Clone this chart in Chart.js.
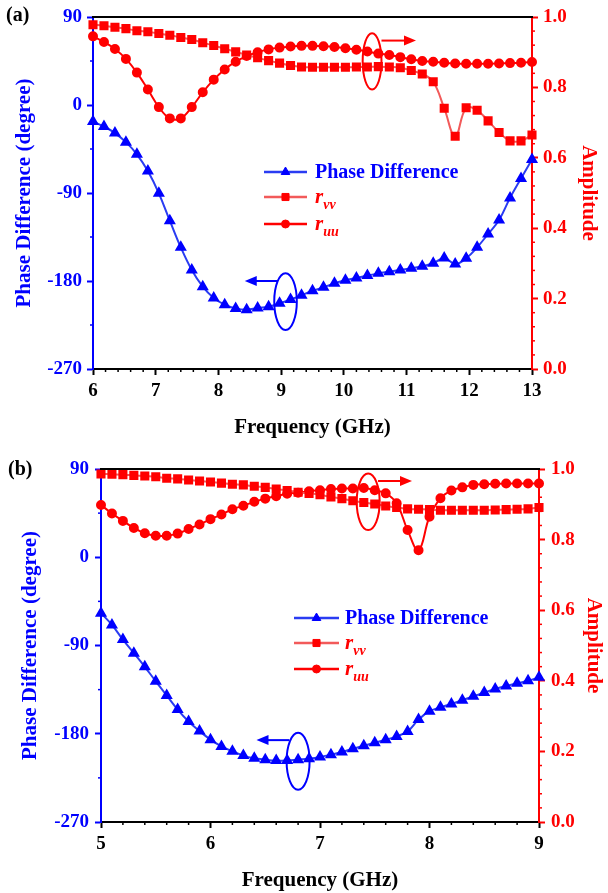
<!DOCTYPE html>
<html><head><meta charset="utf-8">
<script src="https://cdn.jsdelivr.net/npm/chart.js@4.4.1/dist/chart.umd.min.js"></script>
<style>
html,body{margin:0;padding:0;background:#fff;}
#wrap{position:relative;width:608px;height:893px;overflow:hidden;}
canvas{position:absolute;left:0;}
</style></head><body>
<div id="wrap">
<canvas id="ca" width="608" height="445" style="top:0px"></canvas>
<canvas id="cb" width="608" height="448" style="top:445px"></canvas>
</div>
<script>
// ---------------- DATA ----------------
const freqA = [6.000, 6.175, 6.350, 6.525, 6.700, 6.875, 7.050, 7.225, 7.400, 7.575,
  7.750, 7.925, 8.100, 8.275, 8.450, 8.625, 8.800, 8.975, 9.150, 9.325,
  9.500, 9.675, 9.850, 10.025, 10.200, 10.375, 10.550, 10.725, 10.900, 11.075,
  11.250, 11.425, 11.600, 11.775, 11.950, 12.125, 12.300, 12.475, 12.650, 12.825, 13.000];
const phaseA = [-17, -22, -28.7, -38, -50.4, -67.6, -90.3, -118.3, -145.6, -168.7,
  -185.8, -197.4, -204.2, -208, -209.3, -207.6, -206.3, -202.8, -198.8, -194.7,
  -189.9, -186.5, -182.4, -179.3, -176.9, -174.5, -172.2, -170.5, -168.7, -167,
  -165, -161.9, -156.5, -162.6, -156.8, -145.6, -131.9, -117.6, -95, -75.1, -55.8];
const rvvA = [0.978, 0.975, 0.971, 0.967, 0.961, 0.958, 0.953, 0.948, 0.942, 0.936,
  0.927, 0.919, 0.910, 0.901, 0.892, 0.884, 0.876, 0.869, 0.862, 0.858,
  0.857, 0.857, 0.857, 0.857, 0.858, 0.858, 0.859, 0.858, 0.856, 0.848,
  0.838, 0.816, 0.741, 0.661, 0.742, 0.735, 0.705, 0.672, 0.648, 0.648, 0.665];
const ruuA = [0.945, 0.929, 0.909, 0.881, 0.842, 0.794, 0.744, 0.712, 0.712, 0.744,
  0.786, 0.822, 0.851, 0.873, 0.889, 0.900, 0.908, 0.913, 0.916, 0.918,
  0.918, 0.917, 0.915, 0.911, 0.907, 0.902, 0.896, 0.892, 0.886, 0.880,
  0.875, 0.873, 0.870, 0.868, 0.867, 0.867, 0.867, 0.868, 0.869, 0.870, 0.872];

const freqB = [5.0, 5.1, 5.2, 5.3, 5.4, 5.5, 5.6, 5.7, 5.8, 5.9,
  6.0, 6.1, 6.2, 6.3, 6.4, 6.5, 6.6, 6.7, 6.8, 6.9,
  7.0, 7.1, 7.2, 7.3, 7.4, 7.5, 7.6, 7.7, 7.8, 7.9,
  8.0, 8.1, 8.2, 8.3, 8.4, 8.5, 8.6, 8.7, 8.8, 8.9, 9.0];
const phaseB = [-57, -69, -84, -97.8, -111.7, -126.5, -141, -155.3, -167.5, -177.3,
  -186, -192.9, -197.9, -202.3, -205, -206.4, -207.4, -207.4, -206.4, -205.4,
  -203.7, -201.3, -198.6, -195.2, -192.2, -189.1, -186.1, -182.7, -177.6, -165.5,
  -157, -153, -149.6, -145.8, -141.8, -138, -134.3, -131.3, -128.6, -125.9, -122.5];
const rvvB = [0.986, 0.985, 0.984, 0.982, 0.980, 0.978, 0.974, 0.972, 0.969, 0.966,
  0.963, 0.960, 0.957, 0.955, 0.951, 0.948, 0.943, 0.939, 0.934, 0.931,
  0.927, 0.921, 0.916, 0.910, 0.905, 0.901, 0.895, 0.891, 0.887, 0.886,
  0.885, 0.883, 0.883, 0.883, 0.883, 0.883, 0.884, 0.885, 0.886, 0.887, 0.891];
const ruuB = [0.898, 0.874, 0.853, 0.833, 0.818, 0.811, 0.811, 0.817, 0.830, 0.843,
  0.858, 0.871, 0.886, 0.896, 0.907, 0.916, 0.923, 0.930, 0.933, 0.937,
  0.940, 0.943, 0.945, 0.945, 0.946, 0.940, 0.931, 0.903, 0.827, 0.770,
  0.865, 0.917, 0.939, 0.948, 0.955, 0.957, 0.958, 0.959, 0.959, 0.959, 0.959];

const freqTicksA = [6, 7, 8, 9, 10, 11, 12, 13];
const freqTicksB = [5, 6, 7, 8, 9];
const phaseTicks = [90, 0, -90, -180, -270];
const ampTicks = [0.0, 0.2, 0.4, 0.6, 0.8, 1.0];
const seriesNames = ['Phase Difference', 'r', 'r'];
const seriesSubs = ['', 'vv', 'uu'];

// ---------------- STYLE ----------------
const FONT = "'Liberation Serif', 'Times New Roman', serif";
const BLUE = '#0000ff', BLUE_LINE = '#2a3cf2', RED = '#ff0000', RED_LIGHT = '#f25a5a';

function pts(xs, ys) { return xs.map((x, i) => ({x: x, y: ys[i]})); }

const decor = {
  id: 'decor',
  afterDraw(chart, args, o) {
    const ctx = chart.ctx, ca = chart.chartArea;
    const sx = chart.scales.x, sl = chart.scales.yL, sr = chart.scales.yR;
    ctx.save();
    // top frame line
    ctx.strokeStyle = '#000'; ctx.lineWidth = 2;
    ctx.beginPath(); ctx.moveTo(ca.left - 1, ca.top); ctx.lineTo(ca.right + 1, ca.top); ctx.stroke();
    // minor ticks
    const minor = (scale, step, majorStep, side, color) => {
      ctx.strokeStyle = color; ctx.lineWidth = 1.5;
      const n = Math.round((scale.max - scale.min) / step);
      for (let i = 0; i <= n; i++) {
        const v = scale.min + i * step;
        const r = v / majorStep;
        if (Math.abs(r - Math.round(r)) < 1e-6) continue;
        const p = scale.getPixelForValue(v);
        ctx.beginPath();
        if (side === 'bottom') { ctx.moveTo(p, ca.bottom); ctx.lineTo(p, ca.bottom + 3); }
        else if (side === 'left') { ctx.moveTo(ca.left, p); ctx.lineTo(ca.left - 3, p); }
        else { ctx.moveTo(ca.right, p); ctx.lineTo(ca.right + 3, p); }
        ctx.stroke();
      }
    };
    minor(sx, o.minorX, 1, 'bottom', '#000');
    minor(sl, 45, 90, 'left', BLUE);
    minor(sr, 0.04, 0.2, 'right', RED);
    // ellipses
    o.ellipses.forEach(e => {
      const ys = e.axis === 'yL' ? sl : sr;
      const cx = sx.getPixelForValue(e.x), cy = ys.getPixelForValue(e.y);
      const rx = Math.abs(sx.getPixelForValue(e.x + e.dx) - cx);
      const ry = Math.abs(ys.getPixelForValue(e.y + e.dy) - cy);
      ctx.strokeStyle = e.color; ctx.lineWidth = 2;
      ctx.beginPath(); ctx.ellipse(cx, cy, rx, ry, 0, 0, 2 * Math.PI); ctx.stroke();
    });
    // arrows
    o.arrows.forEach(a => {
      const ys = a.axis === 'yL' ? sl : sr;
      const x1 = sx.getPixelForValue(a.x1), x2 = sx.getPixelForValue(a.x2), y = ys.getPixelForValue(a.y);
      const dir = Math.sign(x2 - x1);
      ctx.strokeStyle = a.color; ctx.fillStyle = a.color; ctx.lineWidth = 2;
      ctx.beginPath(); ctx.moveTo(x1, y); ctx.lineTo(x2 - dir * 8, y); ctx.stroke();
      ctx.beginPath(); ctx.moveTo(x2, y); ctx.lineTo(x2 - dir * 12, y - 5); ctx.lineTo(x2 - dir * 12, y + 5); ctx.closePath(); ctx.fill();
    });
    // legend
    const L = o.legend;
    chart.data.datasets.forEach((ds, i) => {
      const y = L.rows[i];
      ctx.strokeStyle = ds.borderColor; ctx.lineWidth = 2.5;
      ctx.beginPath(); ctx.moveTo(L.x1, y); ctx.lineTo(L.x2, y); ctx.stroke();
      ctx.fillStyle = ds.pointBackgroundColor; ctx.strokeStyle = ds.pointBackgroundColor; ctx.lineWidth = 1;
      Chart.helpers.drawPoint(ctx, {pointStyle: ds.pointStyle, radius: ds.pointRadius, rotation: 0, borderWidth: 1}, (L.x1 + L.x2) / 2, y);
      ctx.textBaseline = 'middle'; ctx.textAlign = 'left';
      if (i === 0) {
        ctx.fillStyle = BLUE; ctx.font = 'bold 20px ' + FONT;
        ctx.fillText(seriesNames[0], L.tx, y + 1);
      } else {
        ctx.fillStyle = RED; ctx.font = 'italic bold 21px ' + FONT;
        ctx.fillText(seriesNames[i], L.tx, y + 1);
        const w = ctx.measureText(seriesNames[i]).width;
        ctx.font = 'italic bold 14px ' + FONT;
        ctx.fillText(seriesSubs[i], L.tx + w, y + 8);
      }
    });
    // panel label
    ctx.fillStyle = '#000'; ctx.font = 'bold 20px ' + FONT; ctx.textBaseline = 'middle'; ctx.textAlign = 'left';
    ctx.fillText(o.panel, o.panelX, o.panelY);
    ctx.restore();
  }
};

function buildChart(id, cfg) {
  const datasets = [
    {label: seriesNames[0], data: pts(cfg.freq, cfg.phase), yAxisID: 'yL', borderColor: BLUE_LINE, backgroundColor: BLUE,
     pointBackgroundColor: BLUE, pointBorderColor: BLUE, pointStyle: 'triangle', pointRadius: 5, borderWidth: 2, tension: 0.4, clip: false},
    {label: 'r_vv', data: pts(cfg.freq, cfg.rvv), yAxisID: 'yR', borderColor: RED_LIGHT, backgroundColor: RED,
     pointBackgroundColor: RED, pointBorderColor: RED, pointStyle: 'rect', pointRadius: 5, borderWidth: 2, tension: 0.4, clip: false},
    {label: 'r_uu', data: pts(cfg.freq, cfg.ruu), yAxisID: 'yR', borderColor: RED, backgroundColor: RED,
     pointBackgroundColor: RED, pointBorderColor: RED, pointStyle: 'circle', pointRadius: 4, borderWidth: 2, tension: 0.4, clip: false}
  ];
  const tickFont = {family: FONT, size: 19, weight: 'bold'};
  const titleFont = {family: FONT, size: 21, weight: 'bold'};
  return new Chart(document.getElementById(id), {
    type: 'line',
    data: {datasets: datasets},
    options: {
      responsive: false, animation: false, devicePixelRatio: 1,
      layout: {padding: {top: cfg.top, left: 0, right: 0, bottom: 0}},
      plugins: {legend: {display: false}, tooltip: {enabled: false}, decor: cfg.decor},
      scales: {
        x: {type: 'linear', position: 'bottom', min: cfg.freqTicks[0], max: cfg.freqTicks[cfg.freqTicks.length - 1],
          afterBuildTicks: s => { s.ticks = cfg.freqTicks.map(v => ({value: v})); },
          afterFit: s => { s.height = cfg.xH; },
          ticks: {font: tickFont, color: '#000', padding: 5, maxRotation: 0, autoSkip: false},
          grid: {drawOnChartArea: false, drawTicks: true, tickLength: 6, tickWidth: 2, tickColor: '#000'},
          border: {display: true, color: '#000', width: 2},
          title: {display: true, text: 'Frequency (GHz)', font: titleFont, color: '#000', padding: {top: 0, bottom: cfg.xTitlePad}}},
        yL: {type: 'linear', position: 'left', min: -270, max: 90,
          afterBuildTicks: s => { s.ticks = phaseTicks.map(v => ({value: v})); },
          afterFit: s => { s.width = cfg.leftW; },
          ticks: {font: tickFont, color: BLUE, padding: cfg.lPad, autoSkip: false},
          grid: {drawOnChartArea: false, drawTicks: true, tickLength: 6, tickWidth: 2, tickColor: BLUE},
          border: {display: true, color: BLUE, width: 2},
          title: {display: true, text: 'Phase Difference (degree)', font: titleFont, color: BLUE, padding: {top: cfg.lTitlePad, bottom: 0}}},
        yR: {type: 'linear', position: 'right', min: 0, max: 1,
          afterBuildTicks: s => { s.ticks = ampTicks.map(v => ({value: v})); },
          afterFit: s => { s.width = cfg.rightW; },
          ticks: {font: tickFont, color: RED, padding: cfg.rPad, autoSkip: false, callback: v => Number(v).toFixed(1)},
          grid: {drawOnChartArea: false, drawTicks: true, tickLength: 6, tickWidth: 2, tickColor: RED},
          border: {display: true, color: RED, width: 2},
          title: {display: true, text: 'Amplitude', font: titleFont, color: RED, padding: {top: cfg.rTitlePad, bottom: 0}}}
      }
    },
    plugins: [decor]
  });
}

buildChart('ca', {
  freq: freqA, phase: phaseA, rvv: rvvA, ruu: ruuA, freqTicks: freqTicksA,
  top: 17, xH: 76, leftW: 93, rightW: 76, lPad: 5, rPad: 5,
  xTitlePad: 5, lTitlePad: 12, rTitlePad: 7,
  decor: {
    panel: '(a)', panelX: 6, panelY: 16, minorX: 0.2,
    legend: {x1: 264, x2: 307, tx: 315, rows: [172, 197, 224]},
    ellipses: [
      {axis: 'yR', x: 10.45, y: 0.874, dx: 0.15, dy: 0.08, color: RED},
      {axis: 'yL', x: 9.07, y: -201, dx: 0.18, dy: 29, color: BLUE}
    ],
    arrows: [
      {axis: 'yR', x1: 10.6, x2: 11.15, y: 0.933, color: RED},
      {axis: 'yL', x1: 8.94, x2: 8.42, y: -180, color: BLUE}
    ]
  }
});

buildChart('cb', {
  freq: freqB, phase: phaseB, rvv: rvvB, ruu: ruuB, freqTicks: freqTicksB,
  top: 24, xH: 71, leftW: 101, rightW: 69, lPad: 6, rPad: 6,
  xTitlePad: 0, lTitlePad: 18, rTitlePad: 2,
  decor: {
    panel: '(b)', panelX: 8, panelY: 25, minorX: 0.2,
    legend: {x1: 294, x2: 339, tx: 345, rows: [173, 198, 224]},
    ellipses: [
      {axis: 'yR', x: 7.44, y: 0.907, dx: 0.105, dy: 0.08, color: RED},
      {axis: 'yL', x: 6.80, y: -208, dx: 0.105, dy: 29, color: BLUE}
    ],
    arrows: [
      {axis: 'yR', x1: 7.53, x2: 7.84, y: 0.966, color: RED},
      {axis: 'yL', x1: 6.72, x2: 6.42, y: -186.5, color: BLUE}
    ]
  }
});
</script>
</body></html>
